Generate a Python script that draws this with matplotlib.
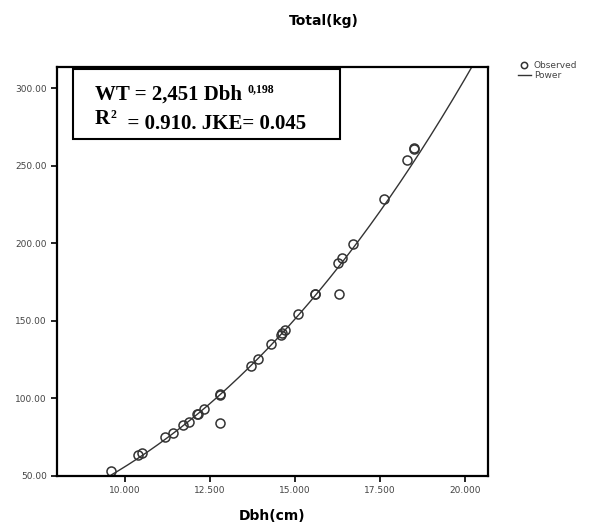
import numpy as np
import matplotlib.pyplot as plt
from matplotlib.ticker import FormatStrFormatter

# observed points
dbh = [9.59, 10.39, 10.49, 11.18, 11.40, 11.71, 11.89, 12.11, 12.15, 12.32,
       12.79, 12.79, 12.79, 13.70, 13.90, 14.28, 14.59, 14.63, 14.71, 15.10,
       15.59, 15.59, 16.27, 16.30, 16.37, 16.70, 17.62, 18.30, 18.50, 18.50]
wt = [53.2, 63.4, 64.5, 74.8, 77.4, 82.7, 84.8, 89.6, 90.0, 92.8,
      102.1, 102.5, 84.2, 120.8, 125.3, 134.8, 141.0, 141.9, 144.0, 154.3,
      167.0, 167.2, 187.0, 167.0, 190.3, 199.3, 228.5, 253.7, 261.2, 260.5]

x_ticks = [10.0, 12.5, 15.0, 17.5, 20.0]
y_ticks = [50, 100, 150, 200, 250, 300]

# power fit (log-log least squares), like SPSS curve estimation
b, log_a = np.polyfit(np.log(dbh), np.log(wt), 1)
xs = np.linspace(8.0, 20.67, 300)
ys = np.exp(log_a) * xs ** b

fig = plt.figure(figsize=(6.05, 5.29), dpi=100)
ax = fig.add_axes([0.0947, 0.1008, 0.7113, 0.772])

ax.plot(xs, ys, color='#333333', lw=1.0, label='Power')
ax.plot(dbh, wt, 'o', mfc='none', mec='#333333', mew=1.1, ms=6.5, label='Observed')

ax.set_xlim(8.0, 20.67)
ax.set_ylim(50, 313.5)
ax.set_xticks(x_ticks)
ax.set_yticks(y_ticks)
ax.xaxis.set_major_formatter(FormatStrFormatter('%.3f'))
ax.yaxis.set_major_formatter(FormatStrFormatter('%.2f'))
ax.tick_params(labelsize=6.5, labelcolor='#444444', length=4, width=1.2, direction='out')
for s in ax.spines.values():
    s.set_linewidth(1.6)

ax.set_xlabel('Dbh(cm)', fontsize=10, fontweight='bold', labelpad=10)
fig.text(0.536, 0.960, 'Total(kg)', ha='center', va='center', fontsize=10, fontweight='bold')

# equation box
box = plt.Rectangle((0.037, 0.824), 0.62, 0.171, transform=ax.transAxes,
                    fill=False, lw=1.5, ec='black', zorder=5)
ax.add_patch(box)
serif = dict(family='Liberation Serif', fontweight='bold', zorder=6)
t1 = ax.text(0.0876, 0.92, 'WT = 2,451 Dbh', transform=ax.transAxes,
             fontsize=15, va='baseline', **serif)
ax.annotate('0,198', xy=(1, 1), xycoords=t1, xytext=(4, 1), textcoords='offset points',
            fontsize=8.5, va='top', ha='left', **serif)
r = ax.text(0.0876, 0.86, 'R', transform=ax.transAxes, fontsize=15, va='baseline', **serif)
r2 = ax.annotate('2', xy=(1, 1), xycoords=r, xytext=(0.5, 0), textcoords='offset points',
                 fontsize=8.5, va='top', ha='left', **serif)
ax.annotate('  = 0.910. JKE= 0.045', xy=(1, 0), xycoords=(r2, r), xytext=(0, 0),
            textcoords='offset points', fontsize=15, va='baseline', ha='left', **serif)

# legend outside at right
h, l = ax.get_legend_handles_labels()
leg = fig.legend([h[1], h[0]], [l[1], l[0]], loc='upper left',
                 bbox_to_anchor=(0.848, 0.893), frameon=False, fontsize=6.5,
                 handlelength=1.5, handletextpad=0.3, labelspacing=0.15, borderpad=0,
                 markerscale=0.7)
for t in leg.get_texts():
    t.set_color('#444444')

fig.savefig('out.png', dpi=100)
